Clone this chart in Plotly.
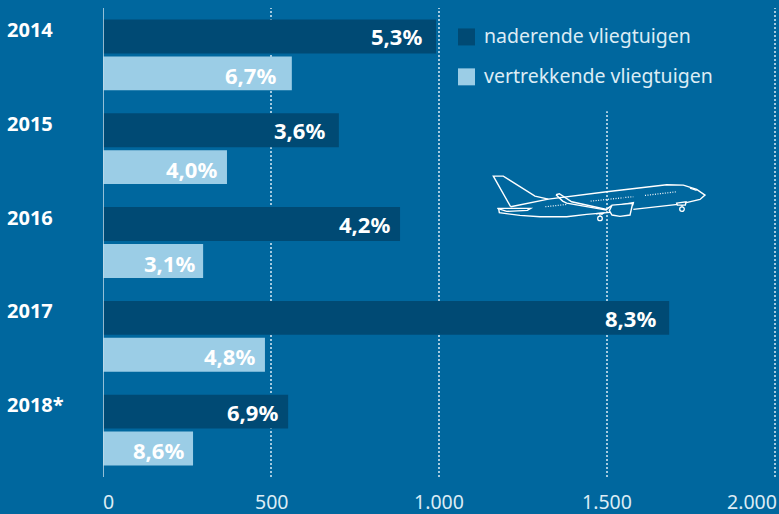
import plotly.graph_objects as go

W, H = 779, 514
PL, PT, PB = 103, 7.5, 36.5
PW, PH = W - PL, H - PT - PB
SCALE = 0.336

years = ["2014", "2015", "2016", "2017", "2018*"]
naderend = [991, 702, 884, 1685, 551]
vertrekkend = [562, 369, 298, 482, 268]
naderend_pct = ["5,3%", "3,6%", "4,2%", "8,3%", "6,9%"]
vertrekkend_pct = ["6,7%", "4,0%", "3,1%", "4,8%", "8,6%"]
tick_vals = [0, 500, 1000, 1500, 2000]
tick_text = ["0", "500", "1.000", "1.500", "2.000"]
series_names = ["naderende vliegtuigen", "vertrekkende vliegtuigen"]

BG = "#00679e"
DARK = "#004a74"
LIGHT = "#9bcde6"
FONT = "Noto Sans"

# distance in pixels between each percentage label and the end of its bar
naderend_gap = [14, 14, 10, 13, 10]
vertrekkend_gap = [16, 10, 8, 10, 9]


def px(x):
    return (x - PL) / PW


def py(y):
    return 1 - (y - PT) / PH


def path(points, close=False):
    s = "M " + " L ".join(f"{px(x):.5f},{py(y):.5f}" for x, y in points)
    return s + (" Z" if close else "")


def plane_pts(zoom_pts):
    return [(440 + x / 3, 90 + y / 3) for x, y in zoom_pts]


fig = go.Figure()
fig.add_bar(y=years, x=naderend, orientation="h", name=series_names[0], marker_color=DARK, marker_line_width=0)
fig.add_bar(y=years, x=vertrekkend, orientation="h", name=series_names[1], marker_color=LIGHT, marker_line_width=0)

shapes = []
for v, top in zip(tick_vals[1:], [7.5, 7.5, 111, 7.5]):
    shapes.append(dict(type="line", layer="below", xref="x", yref="paper", x0=v, x1=v, y0=0, y1=py(top),
                       line=dict(color="#dcecf5", width=1.5, dash="2px,2px")))
shapes.append(dict(type="line", layer="above", xref="x", yref="paper", x0=0, x1=0, y0=0, y1=1,
                   line=dict(color="#c4dcea", width=1.5)))
# legend swatches
for y0, c in [(28, DARK), (68, LIGHT)]:
    shapes.append(dict(type="rect", xref="paper", yref="paper", x0=px(458), x1=px(475), y0=py(y0 + 17), y1=py(y0),
                       fillcolor=c, line_width=0))

# plane outline
outlines = [
    ([(212, 350), (160, 258), (190, 258), (285, 318), (325, 327)], False),
    ([(212, 350), (325, 327), (500, 305), (680, 284), (730, 285), (770, 298), (795, 315), (780, 328), (720, 342), (580, 358)], False),
    ([(510, 367), (440, 373), (380, 380), (300, 380), (240, 376), (178, 368), (176, 356)], False),
    ([(172, 355), (272, 355), (262, 361), (200, 364)], True),
    ([(348, 314), (358, 311), (395, 335), (500, 358), (510, 350), (580, 338), (578, 345), (510, 348)], False),
    ([(348, 314), (368, 333), (380, 339), (500, 360)], False),
    ([(516, 345), (578, 340), (570, 375), (540, 379), (516, 375), (508, 362)], True),
    ([(750, 294), (770, 301)], False),
    ([(710, 339), (738, 335), (736, 345), (712, 345)], True),
    ([(726, 345), (726, 350)], False),
    ([(468, 371), (490, 369), (484, 374)], False),
    ([(480, 372), (480, 377)], False),
]
for pts, closed in outlines:
    shapes.append(dict(type="path", xref="paper", yref="paper", path=path(plane_pts(pts), closed),
                       line=dict(color="white", width=1.4), fillcolor="rgba(0,0,0,0)" if not closed else BG))
for a, b in [((316, 350), (380, 343)), ((452, 333), (550, 323)), ((556, 322), (580, 320)), ((615, 316), (710, 305))]:
    shapes.append(dict(type="path", xref="paper", yref="paper", path=path(plane_pts([a, b])),
                       line=dict(color="white", width=1.2, dash="1px,1.5px")))
for cx, cy in [(726, 357), (480, 385)]:
    (x, y), = plane_pts([(cx, cy)])
    shapes.append(dict(type="circle", xref="paper", yref="paper", x0=px(x - 2.3), x1=px(x + 2.3), y0=py(y + 2.3), y1=py(y - 2.3),
                       line=dict(color="white", width=1.3)))

ann = []
for i, yr in enumerate(years):
    ann.append(dict(text=f"<b>{yr}</b>", xref="paper", x=0, xshift=-98, xanchor="left", yref="y", y=i, yshift=25.5,
                    showarrow=False, font=dict(family=FONT, size=20, color="white")))
    ann.append(dict(text=f"<b>{naderend_pct[i]}</b>", xref="x", x=naderend[i], xshift=2 - naderend_gap[i], xanchor="right", yref="y", y=i,
                    yshift=18.5, showarrow=False, font=dict(family=FONT, size=22, color="white")))
    ann.append(dict(text=f"<b>{vertrekkend_pct[i]}</b>", xref="x", x=vertrekkend[i], xshift=2 - vertrekkend_gap[i], xanchor="right", yref="y", y=i,
                    yshift=-20, showarrow=False, font=dict(family=FONT, size=22, color="white")))
for name, yc in zip(series_names, [35.5, 75.5]):
    ann.append(dict(text=name, xref="paper", yref="paper", x=px(482), y=py(yc), xanchor="left", yanchor="middle",
                    showarrow=False, font=dict(family=FONT, size=19.5, color="#dcecf5")))
for i in range(5):
    shift = {0: (5, "center"), 4: (0, "right")}.get(i, (0, "center"))
    ann.append(dict(text=tick_text[i], xref="x", x=tick_vals[i], xshift=shift[0] + (4 if i == 4 else 0), xanchor=shift[1],
                    yref="paper", y=py(502.5), yanchor="middle",
                    showarrow=False, font=dict(family=FONT, size=19.5, color="#dcecf5")))

fig.update_layout(
    width=W, height=H, margin=dict(l=PL, r=0, t=PT, b=PB, pad=0),
    paper_bgcolor=BG, plot_bgcolor=BG, barmode="group", bargap=0.2128, bargroupgap=0.081,
    showlegend=False, shapes=shapes, annotations=ann,
    font=dict(family=FONT),
    xaxis=dict(range=[0, PW / SCALE], tickmode="array", tickvals=tick_vals, ticktext=[""] * 5,
               showgrid=False, zeroline=False, showline=False, ticks=""),
    yaxis=dict(type="category", categoryorder="array", categoryarray=years, range=[4.5, -0.5],
               showticklabels=False, showgrid=False, zeroline=False, showline=False, ticks=""),
)
fig.write_html("out.html", config=dict(displayModeBar=False),
               post_script=f"document.body.style.margin='0';document.body.style.overflow='hidden';document.body.style.background='{BG}';")
